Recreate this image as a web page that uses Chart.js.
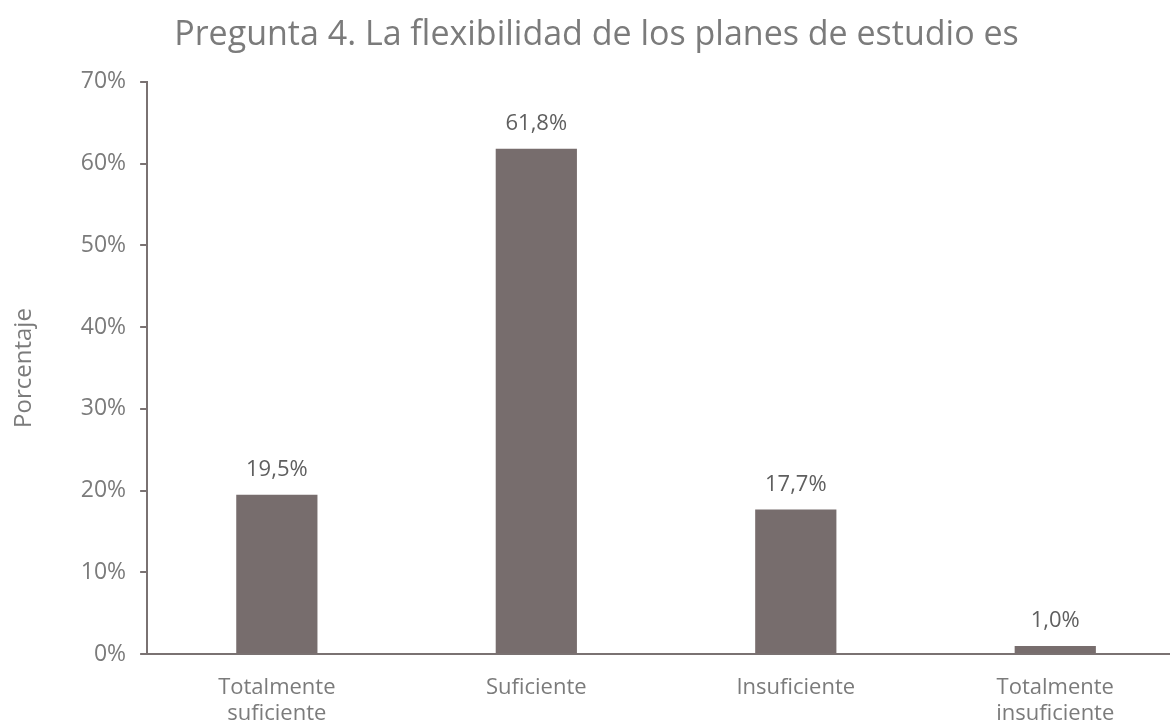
<!DOCTYPE html>
<html>
<head>
<meta charset="utf-8">
<script src="https://cdn.jsdelivr.net/npm/chart.js@4.4.0/dist/chart.umd.min.js"></script>
<style>
  html, body { margin: 0; padding: 0; background: #fff; overflow: hidden; }
  #wrap { width: 1185px; height: 725px; }
</style>
</head>
<body>
<div id="wrap"><canvas id="chart"></canvas></div>
<script>
// data
const CATEGORIES = [['Totalmente', 'suficiente'], 'Suficiente', 'Insuficiente', ['Totalmente', 'insuficiente']];
const VALUES     = [19.5, 61.8, 17.7, 1.0];
const TITLE      = 'Pregunta 4. La flexibilidad de los planes de estudio es';
const Y_TITLE    = 'Porcentaje';

const BAR_COLOR  = '#776d6d';
const AXIS_COLOR = '#7a7272';
const TEXT_COLOR = '#7b7b7b';
const FONT       = "'Open Sans', sans-serif";

// value labels above each bar, comma decimal
const valueLabels = {
  id: 'valueLabels',
  afterDatasetsDraw(chart) {
    const ctx = chart.ctx;
    const meta = chart.getDatasetMeta(0);
    ctx.save();
    ctx.font = `22px ${FONT}`;
    ctx.fillStyle = '#5f5f5f';
    ctx.textAlign = 'center';
    ctx.textBaseline = 'bottom';
    meta.data.forEach((bar, i) => {
      ctx.fillText(VALUES[i].toFixed(1).replace('.', ',') + '%', bar.x, bar.y - 14);
    });
    ctx.restore();
  }
};

new Chart(document.getElementById('chart'), {
  type: 'bar',
  data: {
    labels: CATEGORIES,
    datasets: [{
      data: VALUES,
      backgroundColor: BAR_COLOR,
      barPercentage: 0.313,
      categoryPercentage: 1,
    }],
  },
  options: {
    responsive: true,
    maintainAspectRatio: false,
    animation: false,
    layout: { padding: { left: 8, right: 0, top: 0, bottom: -22 } },
    plugins: {
      legend: { display: false },
      tooltip: { enabled: false },
      title: {
        display: true,
        text: TITLE,
        color: TEXT_COLOR,
        font: { family: FONT, size: 34, weight: 'normal' },
        padding: { top: 15, bottom: 26 },
      },
    },
    scales: {
      x: {
        grid: { display: false, drawTicks: false, tickLength: 0 },
        border: { display: true, color: AXIS_COLOR, width: 2 },
        ticks: {
          color: TEXT_COLOR,
          font: { family: FONT, size: 22, lineHeight: 1.2 },
          maxRotation: 0,
          padding: 20,
        },
      },
      y: {
        min: 0,
        max: 70,
        ticks: {
          stepSize: 10,
          color: TEXT_COLOR,
          font: { family: FONT, size: 23 },
          padding: 14,
          callback: v => v + '%',
        },
        grid: {
          drawOnChartArea: false,
          drawTicks: true,
          tickLength: 7,
          color: AXIS_COLOR,
          lineWidth: 2,
        },
        border: { display: true, color: AXIS_COLOR, width: 2 },
        title: {
          display: true,
          text: Y_TITLE,
          color: TEXT_COLOR,
          font: { family: FONT, size: 24 },
          padding: { top: 2, bottom: 28 },
        },
      },
    },
  },
  plugins: [valueLabels],
});
</script>
</body>
</html>
